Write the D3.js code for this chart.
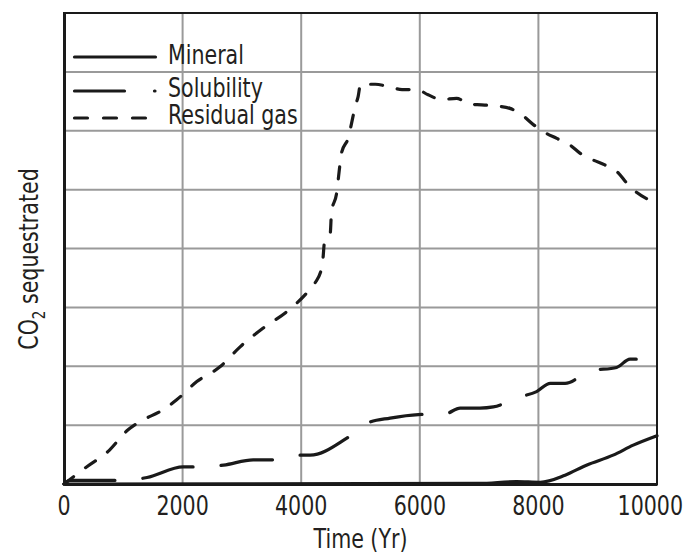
<!DOCTYPE html>
<html>
<head>
<meta charset="utf-8">
<script src="https://cdn.jsdelivr.net/npm/d3@7"></script>
<style>
  html, body { margin: 0; padding: 0; background: #fff; }
  svg text { font-family: "DejaVu Sans Condensed", "DejaVu Sans", sans-serif; font-stretch: condensed; fill: #231f20; }
</style>
</head>
<body>
<svg id="chart" width="688" height="555"></svg>
<script>
// Axis ticks
const xTicks = [0, 2000, 4000, 6000, 8000, 10000];
const yGrid = [0, 1, 2, 3, 4, 5, 6, 7, 8];

// Series: [time (yr), CO2 sequestrated (relative units)]
const mineral = [[0,0],[7000,0.01],[7630,0.04],[8030,0.03],[8450,0.15],[8810,0.32],[9260,0.49],[9600,0.66],[10000,0.82]];
const solubility = [[0,0],[100,0.06],[970,0.06],[1400,0.11],[2010,0.29],[2240,0.29],[2690,0.32],[3190,0.41],[3530,0.41],[3980,0.49],[4150,0.49],[4770,0.78],[5130,1.04],[5500,1.12],[5975,1.18],[6425,1.19],[6680,1.29],[7015,1.29],[7240,1.31],[7660,1.47],[7970,1.57],[8200,1.71],[8450,1.71],[8870,1.92],[9320,1.98],[9545,2.12],[9650,2.12]];
const residualGas = [[0,0],[380,0.29],[740,0.55],[1080,0.92],[1280,1.06],[1670,1.26],[1900,1.43],[2240,1.74],[2630,1.99],[2970,2.33],[3360,2.65],[3760,2.93],[4090,3.24],[4230,3.41],[4350,3.69],[4370,3.86],[4390,4.09],[4490,4.26],[4510,4.6],[4600,4.96],[4630,5.22],[4680,5.62],[4800,5.9],[4850,6.13],[4910,6.41],[4960,6.58],[5000,6.79],[5250,6.79],[5470,6.75],[5700,6.7],[5950,6.7],[6140,6.61],[6370,6.53],[6620,6.55],[6850,6.45],[7040,6.44],[7300,6.42],[7520,6.38],[7720,6.27],[7920,6.1],[8110,5.97],[8310,5.87],[8530,5.76],[8700,5.62],[8930,5.5],[9120,5.42],[9350,5.28],[9490,5.11],[9660,4.95],[9880,4.82]];

const seriesNames = ["Mineral", "Solubility", "Residual gas"];

const margin = { left: 64, top: 13, right: 31, bottom: 71 };
const W = 688, H = 555;
const FS = 26, SX = 0.88;   // font size and horizontal squeeze for a narrow face
const svg = d3.select("#chart");

const x = d3.scaleLinear().domain([0, 10000]).range([margin.left, W - margin.right]);
const y = d3.scaleLinear().domain([0, 8]).range([H - margin.bottom, margin.top]);

// grid
const grid = svg.append("g").attr("stroke", "#9a9a9a").attr("stroke-width", 2);
grid.selectAll("line.v").data(xTicks).join("line")
  .attr("x1", d => x(d)).attr("x2", d => x(d))
  .attr("y1", y(0)).attr("y2", y(8));
grid.selectAll("line.h").data(yGrid).join("line")
  .attr("x1", x(0)).attr("x2", x(10000))
  .attr("y1", d => y(d)).attr("y2", d => y(d));

// frame
svg.append("rect")
  .attr("x", x(0)).attr("y", y(8))
  .attr("width", x(10000) - x(0)).attr("height", y(0) - y(8))
  .attr("fill", "none").attr("stroke", "#1a1a1a").attr("stroke-width", 2);

// x axis line (labels drawn below so they can be squeezed)
const xAxis = svg.append("g")
  .attr("transform", `translate(0,${y(0)})`)
  .call(d3.axisBottom(x).tickValues([]).tickSize(0));
xAxis.select(".domain").attr("stroke", "#1a1a1a").attr("stroke-width", 3);

const tickLabels = svg.append("g").selectAll("text").data(xTicks).join("text")
  .attr("text-anchor", "middle").attr("font-size", FS)
  .text(d => d3.format("d")(d));
tickLabels.each(function(d) {
  const w = this.getComputedTextLength() * SX;
  const cx = Math.min(x(d), W - 5 - w / 2);
  d3.select(this).attr("transform", `translate(${cx},515) scale(${SX},1)`);
});

// y axis line
const yAxis = svg.append("g")
  .attr("transform", `translate(${x(0)},0)`)
  .call(d3.axisLeft(y).tickValues([]).tickSize(0));
yAxis.select(".domain").attr("stroke", "#1a1a1a").attr("stroke-width", 3);

// axis titles
svg.append("text")
  .attr("transform", `translate(${(x(0) + x(10000)) / 2},548) scale(${SX},1)`)
  .attr("text-anchor", "middle").attr("font-size", FS)
  .text("Time (Yr)");

const yt = svg.append("text")
  .attr("transform", `translate(38,259) rotate(-90) scale(${SX},1)`)
  .attr("text-anchor", "middle").attr("font-size", FS);
yt.append("tspan").text("CO");
yt.append("tspan").attr("font-size", 17).attr("dy", 7).text("2");
yt.append("tspan").attr("dy", -7).text(" sequestrated");

// lines
const line = d3.line().x(d => x(d[0])).y(d => y(d[1])).curve(d3.curveMonotoneX);
const styles = [
  { data: mineral, dash: null },
  { data: solubility, dash: "52,28" },
  { data: residualGas, dash: "12,15" }
];
svg.selectAll("path.series").data(styles).join("path")
  .attr("class", "series")
  .attr("d", d => line(d.data))
  .attr("fill", "none").attr("stroke", "#1a1a1a").attr("stroke-width", 3.2)
  .attr("stroke-linecap", "round").attr("stroke-linejoin", "round")
  .attr("stroke-dasharray", d => d.dash);

// legend
const legendY = [57, 91, 118];
const legendBase = [64, 97, 124];
const legendDash = [null, "50,30,0.5,200", "13,16"];
const lg = svg.append("g");
seriesNames.forEach((name, i) => {
  lg.append("line")
    .attr("x1", 74.5).attr("x2", 155.5)
    .attr("y1", legendY[i]).attr("y2", legendY[i])
    .attr("stroke", "#1a1a1a").attr("stroke-width", 3.2)
    .attr("stroke-linecap", "round")
    .attr("stroke-dasharray", legendDash[i]);
  lg.append("text")
    .attr("transform", `translate(168,${legendBase[i]}) scale(${SX},1)`)
    .attr("font-size", FS)
    .text(name);
});
</script>
</body>
</html>
